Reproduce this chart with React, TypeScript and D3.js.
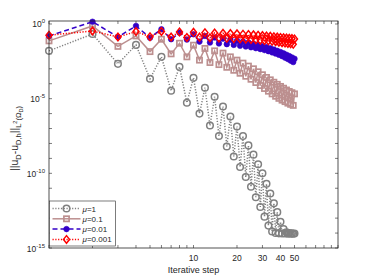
import React from 'react';
import * as d3 from 'd3';

// iteration steps 1..50
const steps = d3.range(1, 51);

// log10 of the error (odd steps, even steps interleaved)
const mu1Log = [
  -1.8, -0.67, -2.67, -1.4, -3.67, -2.2, -4.47, -2.87, -5.27, -3.6,
  -6.0, -4.27, -6.8, -4.87, -7.5, -5.53, -8.2, -6.2, -8.87, -6.87,
  -9.58, -7.5, -10.25, -8.13, -10.9, -8.75, -11.6, -9.4, -12.25, -10.0,
  -12.9, -10.7, -13.5, -11.35, -13.9, -12.0, -14.0, -12.6, -14.02, -13.25,
  -14.03, -13.73, -14.03, -13.95, -14.04, -14.0, -14.04, -14.02, -14.05, -14.03,
];
const mu01Log = [
  -1.13, -0.13, -1.5, -0.8, -1.85, -1.02, -2.0, -1.29, -2.2, -1.42,
  -2.42, -1.64, -2.58, -1.8, -2.72, -1.95, -2.9, -2.2, -3.1, -2.42,
  -3.3, -2.62, -3.5, -2.82, -3.7, -3.0, -3.92, -3.2, -4.12, -3.4,
  -4.32, -3.58, -4.5, -3.74, -4.68, -3.9, -4.84, -4.04, -4.98, -4.18,
  -5.1, -4.3, -5.2, -4.42, -5.3, -4.52, -5.38, -4.6, -5.45, -4.68,
];
const mu001Log = [
  -0.8, 0.15, -0.87, -0.13, -0.92, -0.35, -1.02, -0.58, -1.04, -0.69,
  -1.18, -0.8, -1.24, -0.9, -1.3, -0.98, -1.35, -1.05, -1.4, -1.12,
  -1.45, -1.18, -1.5, -1.25, -1.56, -1.32, -1.62, -1.4, -1.68, -1.47,
  -1.75, -1.55, -1.82, -1.63, -1.9, -1.71, -1.98, -1.8, -2.06, -1.88,
  -2.15, -1.97, -2.25, -2.06, -2.35, -2.15, -2.45, -2.24, -2.55, -2.33,
];
const mu0001Log = [
  -0.75, -0.47, -0.87, -0.51, -0.85, -0.5, -0.87, -0.53, -0.9, -0.56,
  -0.88, -0.58, -0.92, -0.6, -0.94, -0.62, -0.96, -0.64, -0.98, -0.66,
  -1.0, -0.68, -1.02, -0.7, -1.04, -0.72, -1.06, -0.75, -1.08, -0.77,
  -1.1, -0.8, -1.13, -0.82, -1.16, -0.85, -1.19, -0.87, -1.22, -0.9,
  -1.25, -0.92, -1.28, -0.94, -1.3, -0.96, -1.33, -0.98, -1.36, -1.0,
];

const seriesLabels = ['1', '0.1', '0.01', '0.001'];
const xTickLabels = [10, 20, 30, 40, 50];
const yTickExps = [0, -5, -10, -15];

const margin = { left: 49, right: 36, top: 21, bottom: 32 };
const W = 374;
const H = 280;

const axisColor = '#262626';
const font = '"Liberation Sans", Arial, sans-serif';

type Style = {
  color: string;
  dash: string | undefined;
  marker: 'circle' | 'square' | 'dot' | 'diamond';
};

const styles: Style[] = [
  { color: '#808080', dash: '1.2,1.6', marker: 'circle' },
  { color: '#bc8f8f', dash: undefined, marker: 'square' },
  { color: '#3300c8', dash: '5,3', marker: 'dot' },
  { color: '#ff0000', dash: '1.2,1.6', marker: 'diamond' },
];

const Marker = ({ kind, x, y, color }: { kind: Style['marker']; x: number; y: number; color: string }) => {
  if (kind === 'circle')
    return <circle cx={x} cy={y} r={3.3} fill="none" stroke={color} strokeWidth={1.5} />;
  if (kind === 'square')
    return <rect x={x - 2.6} y={y - 2.6} width={5.2} height={5.2} fill="none" stroke={color} strokeWidth={1.7} />;
  if (kind === 'dot') return <circle cx={x} cy={y} r={2.8} fill={color} stroke={color} strokeWidth={0.6} />;
  return (
    <path
      d={`M${x},${y - 3.8}L${x + 3},${y}L${x},${y + 3.8}L${x - 3},${y}Z`}
      fill="none"
      stroke={color}
      strokeWidth={1.5}
    />
  );
};

export default function App() {
  const x = d3.scaleLog().domain([1, 100]).range([margin.left, W - margin.right]);
  const y = d3.scaleLog().domain([Math.pow(10, -15), Math.pow(10, 0.2)]).range([H - margin.bottom, margin.top]);

  const all = [mu1Log, mu01Log, mu001Log, mu0001Log].map((arr) =>
    arr.map((v, i) => ({ n: steps[i], e: Math.pow(10, v) }))
  );

  const line = d3
    .line<{ n: number; e: number }>()
    .x((d) => x(d.n))
    .y((d) => y(d.e));

  const [x0, x1] = x.range();
  const [y0, y1] = y.range();

  const xTicks = x.ticks();
  const yTicks = d3.range(-15, 1).map((e) => Math.pow(10, e));

  const legendX = x0 + 0.5;
  const legendY = 201;

  return (
    <svg width={W} height={H} style={{ position: 'absolute', left: 0, top: 0, background: '#fff' }} fontFamily={font}>
      {/* ticks */}
      {xTicks.map((t, i) => (
        <g key={'xt' + i}>
          <line x1={x(t)} x2={x(t)} y1={y0} y2={y0 - 3} stroke={axisColor} strokeWidth={0.6} />
          <line x1={x(t)} x2={x(t)} y1={y1} y2={y1 + 3} stroke={axisColor} strokeWidth={0.6} />
        </g>
      ))}
      {yTicks.map((t, i) => (
        <g key={'yt' + i}>
          <line x1={x0} x2={x0 + 3} y1={y(t)} y2={y(t)} stroke={axisColor} strokeWidth={0.6} />
          <line x1={x1} x2={x1 - 3} y1={y(t)} y2={y(t)} stroke={axisColor} strokeWidth={0.6} />
        </g>
      ))}

      {/* series */}
      {all.map((data, si) => (
        <g key={'s' + si}>
          <path
            d={line(data) || ''}
            fill="none"
            stroke={styles[si].color}
            strokeWidth={1.5}
            strokeDasharray={styles[si].dash}
          />
          {data.map((d, i) => (
            <Marker key={i} kind={styles[si].marker} x={x(d.n)} y={y(d.e)} color={styles[si].color} />
          ))}
        </g>
      ))}

      {/* frame */}
      <rect x={x0} y={y1} width={x1 - x0} height={y0 - y1} fill="none" stroke={axisColor} strokeWidth={0.8} />

      {/* tick labels */}
      {xTickLabels.map((t) => (
        <text key={'xl' + t} x={x(t)} y={261} fontSize={8.5} textAnchor="middle" fill={axisColor}>
          {t}
        </text>
      ))}
      {yTickExps.map((e) => (
        <text key={'yl' + e} x={45} y={y(Math.pow(10, e)) + 3.5} fontSize={8.5} textAnchor="end" fill={axisColor}>
          10
          <tspan fontSize={6} dy={-4}>
            {e}
          </tspan>
        </text>
      ))}

      {/* axis labels */}
      <text x={(x0 + x1) / 2} y={273} fontSize={9} textAnchor="middle" fill={axisColor}>
        Iterative step
      </text>
      <text
        transform={`translate(18,${(y0 + y1) / 2 + 4}) rotate(-90)`}
        fontSize={10.5}
        textAnchor="middle"
        fill={axisColor}
      >
        ||u
        <tspan fontSize={7.5} dy={3}>D</tspan>
        <tspan dy={-3}>-u</tspan>
        <tspan fontSize={7.5} dy={3}>D,h</tspan>
        <tspan dy={-3}>||</tspan>
        <tspan fontSize={7.5} dy={3}>L</tspan>
        <tspan fontSize={5.5} dy={-4.5}>2</tspan>
        <tspan fontSize={7.5} dy={4.5}>(Ω</tspan>
        <tspan fontSize={5.5} dy={1.5}>D</tspan>
        <tspan fontSize={7.5} dy={-1.5}>)</tspan>
      </text>

      {/* legend */}
      <rect x={legendX} y={legendY} width={66} height={45} fill="#fff" stroke={axisColor} strokeWidth={0.6} />
      {seriesLabels.map((lab, i) => {
        const ly = legendY + 7.5 + i * 10.3;
        return (
          <g key={'lg' + i}>
            <line
              x1={legendX + 3}
              x2={legendX + 31}
              y1={ly}
              y2={ly}
              stroke={styles[i].color}
              strokeWidth={1.5}
              strokeDasharray={styles[i].dash}
            />
            <Marker kind={styles[i].marker} x={legendX + 17} y={ly} color={styles[i].color} />
            <text x={legendX + 33} y={ly + 3} fontSize={8} fill={axisColor}>
              <tspan fontStyle="italic">μ</tspan>={lab}
            </text>
          </g>
        );
      })}
    </svg>
  );
}
